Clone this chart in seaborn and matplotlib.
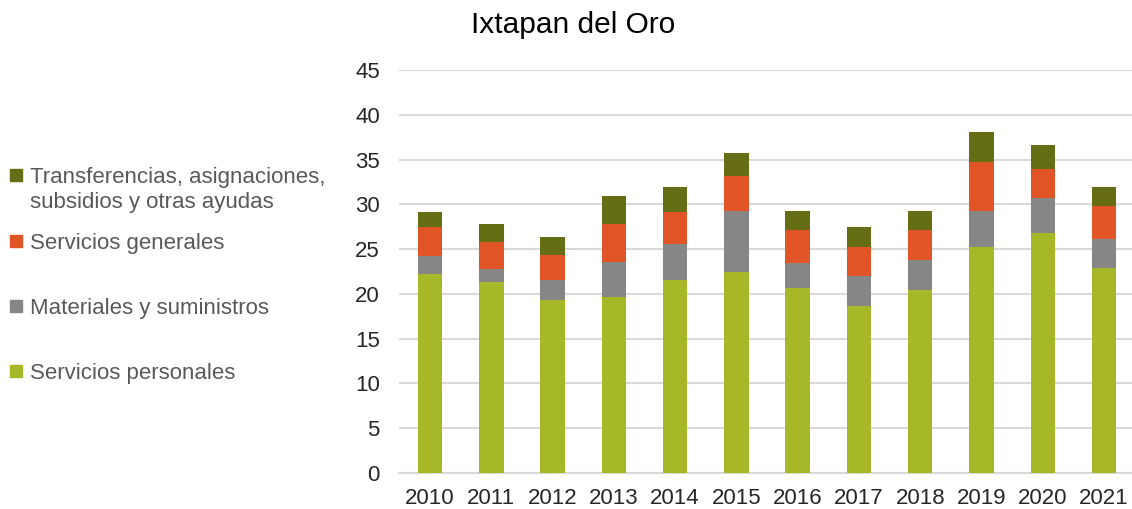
import matplotlib
matplotlib.use("Agg")
import matplotlib.pyplot as plt
import matplotlib.patches as mpatches
import seaborn as sns
import numpy as np
import pandas as pd

years = ["2010", "2011", "2012", "2013", "2014", "2015",
         "2016", "2017", "2018", "2019", "2020", "2021"]
servicios_personales = [22.2, 21.3, 19.3, 19.6, 21.6, 22.4, 20.7, 18.7, 20.4, 25.2, 26.8, 22.9]
materiales = [2.0, 1.5, 2.2, 4.0, 4.0, 6.9, 2.8, 3.3, 3.4, 4.1, 3.9, 3.2]
servicios_generales = [3.3, 3.0, 2.8, 4.2, 3.5, 3.9, 3.6, 3.2, 3.3, 5.4, 3.2, 3.7]
transferencias = [1.6, 2.0, 2.0, 3.1, 2.8, 2.5, 2.2, 2.3, 2.1, 3.4, 2.7, 2.1]

labels = ["Servicios personales", "Materiales y suministros", "Servicios generales",
          "Transferencias, asignaciones,\nsubsidios y otras ayudas"]
colors = ["#A6B727", "#868686", "#E05426", "#656E14"]

sns.set_theme(style="white")
plt.rcParams["font.family"] = ["Liberation Sans", "DejaVu Sans"]

df = pd.DataFrame({
    "year": years,
    labels[0]: servicios_personales,
    labels[1]: materiales,
    labels[2]: servicios_generales,
    labels[3]: transferencias,
})
cum = df[labels].cumsum(axis=1)

W, H = 1132, 509
fig = plt.figure(figsize=(W / 100, H / 100), dpi=100)
ax = fig.add_axes([0.3528, 0.0707, 0.6496, 0.7918])

# stacked bars: draw cumulative totals from the top layer down
for lab, col in reversed(list(zip(labels, colors))):
    sns.barplot(x=df["year"], y=cum[lab], color=col, width=0.4, ax=ax,
                saturation=1, edgecolor="none", zorder=3)

ax.set_ylim(0, 45)
ax.set_xlim(-0.5, 11.5)
ax.set_yticks(np.arange(0, 46, 5))
ax.yaxis.grid(True, color="#D9D9D9", linewidth=1.5, zorder=0)
ax.set_axisbelow(True)
for s in ["top", "right", "left"]:
    ax.spines[s].set_visible(False)
ax.spines["bottom"].set_color("#D9D9D9")
ax.spines["bottom"].set_linewidth(1.5)
ax.set_xlabel("")
ax.set_ylabel("")
ax.tick_params(axis="both", labelsize=16, colors="#262626", length=0)
ax.tick_params(axis="y", pad=14)
ax.tick_params(axis="x", pad=11)

fig.suptitle("Ixtapan del Oro", x=0.506, y=0.951, va="center", fontsize=21.5, color="#000000")

# legend on the left, Excel style: square marker aligned with first text line
legend_rows = [(labels[3], colors[3], 175), (labels[2], colors[2], 241),
               (labels[1], colors[1], 306), (labels[0], colors[0], 371)]
for lab, col, ypx in legend_rows:
    fig.patches.append(mpatches.Rectangle((10 / W, 1 - (ypx + 6) / H), 12 / W, 12 / H,
                                          transform=fig.transFigure, color=col))
    for i, line in enumerate(lab.split("\n")):
        fig.text(30 / W, 1 - (ypx + 8 + 25 * i) / H, line, fontsize=16, color="#595959",
                 va="baseline", ha="left", transform=fig.transFigure)

fig.savefig("out.png", dpi=100)
